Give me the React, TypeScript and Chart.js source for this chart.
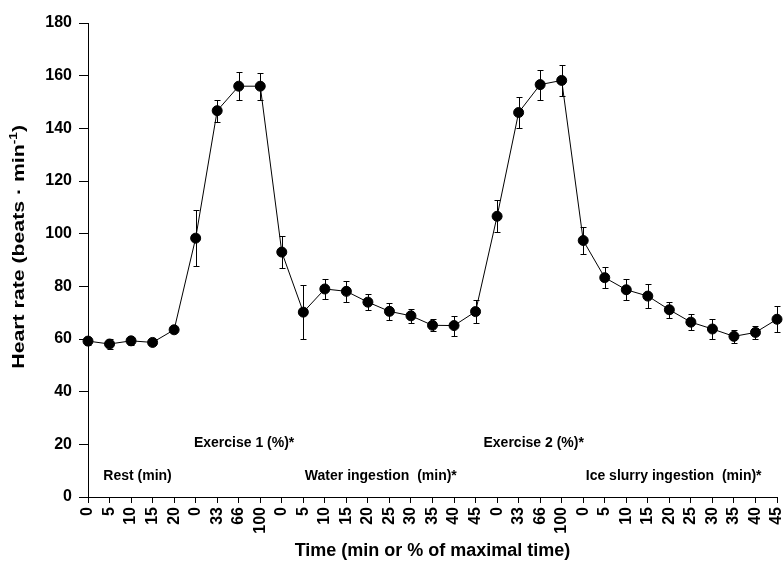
import React, { useEffect, useRef } from 'react';
import { Chart, registerables } from 'chart.js';

Chart.register(...registerables);

const timeLabels = ['0', '5', '10', '15', '20', '0', '33', '66', '100', '0', '5', '10', '15', '20', '25', '30', '35', '40', '45', '0', '33', '66', '100', '0', '5', '10', '15', '20', '25', '30', '35', '40', '45'];
const heartRate = [59.2, 58.1, 59.3, 58.7, 63.5, 98.3, 146.7, 156.0, 156.0, 93.0, 70.2, 79.0, 78.1, 74.0, 70.5, 68.8, 65.2, 65.1, 70.4, 106.6, 146.0, 156.6, 158.2, 97.4, 83.3, 78.7, 76.3, 71.1, 66.4, 63.8, 61.0, 62.5, 67.5];
const heartRateSE = [1.5, 2, 1.5, 1, 1, 10.6, 4.2, 5.3, 5.1, 6.2, 10.3, 3.7, 3.9, 3, 3.2, 2.7, 2.3, 3.8, 4.5, 6, 6, 5.7, 6, 5, 4.1, 3.9, 4.6, 3.1, 3.1, 3.7, 2.5, 2.5, 5];
const phaseLabels = ['Rest (min)', 'Exercise 1 (%)*', 'Water ingestion  (min)*', 'Exercise 2 (%)*', 'Ice slurry ingestion  (min)*'];
const yTitle = 'Heart rate (beats \u00b7 min';
const xTitle = 'Time (min or % of maximal time)';

const FONT = "'Liberation Sans', Arial, sans-serif";

const errorBarPlugin = {
  id: 'errorBars',
  beforeDatasetsDraw(chart: any) {
    const { ctx, scales } = chart;
    const x = scales.x;
    const y = scales.y;
    ctx.save();
    ctx.strokeStyle = '#000';
    ctx.lineWidth = 1;
    heartRate.forEach((v, i) => {
      const px = Math.round(x.getPixelForValue(i)) + 0.5;
      const top = Math.round(y.getPixelForValue(v + heartRateSE[i])) + 0.5;
      const bot = Math.round(y.getPixelForValue(v - heartRateSE[i])) + 0.5;
      ctx.beginPath();
      ctx.moveTo(px, top);
      ctx.lineTo(px, bot);
      ctx.moveTo(px - 3, top);
      ctx.lineTo(px + 3, top);
      ctx.moveTo(px - 3, bot);
      ctx.lineTo(px + 3, bot);
      ctx.stroke();
    });
    ctx.restore();
  },
};

// phase annotation anchors: [category index of text centre, y value]
const phaseAnchors = [
  [2.3, 8],
  [7.25, 20.4],
  [13.6, 8],
  [20.7, 20.4],
  [27.2, 8],
];

const annotationPlugin = {
  id: 'phaseText',
  afterDraw(chart: any) {
    const { ctx, scales } = chart;
    const x = scales.x;
    const y = scales.y;
    ctx.save();
    ctx.fillStyle = '#000';
    ctx.font = `bold 14px ${FONT}`;
    ctx.textAlign = 'center';
    ctx.textBaseline = 'middle';
    phaseLabels.forEach((t, i) => {
      const [ci, yv] = phaseAnchors[i];
      ctx.fillText(t, x.getPixelForValue(ci), y.getPixelForValue(yv));
    });
    // y-axis title with superscript
    const cx = 19;
    const cy = y.getPixelForValue(95);
    ctx.translate(cx, cy);
    ctx.rotate(-Math.PI / 2);
    ctx.scale(1.25, 1);
    ctx.textAlign = 'left';
    const mainFont = `bold 17px ${FONT}`;
    const supFont = `bold 11px ${FONT}`;
    ctx.font = mainFont;
    const w1 = ctx.measureText(yTitle).width;
    const w3 = ctx.measureText(')').width;
    ctx.font = supFont;
    const w2 = ctx.measureText('-1').width;
    const total = w1 + w2 + w3;
    let sx = -total / 2;
    ctx.font = mainFont;
    ctx.fillText(yTitle, sx, 0);
    sx += w1;
    ctx.font = supFont;
    ctx.fillText('-1', sx, -5);
    sx += w2;
    ctx.font = mainFont;
    ctx.fillText(')', sx, 0);
    ctx.restore();
  },
};

export default function App() {
  const ref = useRef<HTMLCanvasElement | null>(null);
  useEffect(() => {
    if (!ref.current) return;
    Chart.defaults.font.family = FONT;
    const chart = new Chart(ref.current, {
      type: 'line',
      data: {
        labels: timeLabels,
        datasets: [
          {
            data: heartRate,
            borderColor: '#000',
            borderWidth: 1,
            pointRadius: 5,
            pointBackgroundColor: '#000',
            pointBorderColor: '#000',
            pointBorderWidth: 1,
            tension: 0,
            fill: false,
          },
        ],
      },
      options: {
        animation: false,
        responsive: false,
        layout: { padding: { top: 23, right: 6, left: 0, bottom: 0 } },
        plugins: { legend: { display: false }, tooltip: { enabled: false } },
        scales: {
          x: {
            type: 'category',
            offset: false,
            grid: { display: true, drawOnChartArea: false, drawTicks: true, tickLength: 6, color: '#000' },
            border: { display: true, color: '#000', width: 1 },
            ticks: {
              autoSkip: false,
              maxRotation: 90,
              minRotation: 90,
              padding: 4,
              color: '#000',
              font: { family: FONT, weight: 'bold', size: 16 },
            },
            title: {
              display: true,
              text: xTitle,
              color: '#000',
              font: { family: FONT, weight: 'bold', size: 18 },
              padding: { top: 0, bottom: 3 },
            },
            afterFit(s: any) {
              s.height = 68;
              s.paddingRight = 0;
              s.paddingLeft = 0;
            },
          },
          y: {
            min: 0,
            max: 180,
            grid: { display: true, drawOnChartArea: false, drawTicks: true, tickLength: 9, color: '#000' },
            border: { display: true, color: '#000', width: 1 },
            ticks: {
              stepSize: 20,
              padding: 7,
              color: '#000',
              font: { family: FONT, weight: 'bold', size: 16 },
            },
            afterFit(s: any) {
              s.width = 88;
            },
          },
        },
      } as any,
      plugins: [errorBarPlugin, annotationPlugin],
    });
    return () => chart.destroy();
  }, []);
  return (
    <div style={{ position: 'fixed', left: 0, top: 0, width: 783, height: 565, background: '#fff' }}>
      <canvas ref={ref} width={783} height={565} style={{ display: 'block' }} />
    </div>
  );
}
